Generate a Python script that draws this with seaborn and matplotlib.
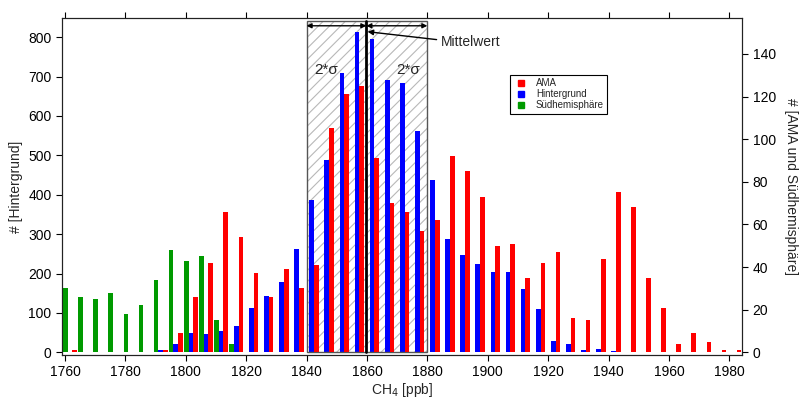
import matplotlib
matplotlib.use("Agg")
import matplotlib.pyplot as plt
import numpy as np
import pandas as pd
import seaborn as sns
from matplotlib.patches import Rectangle
from matplotlib.lines import Line2D

# ---------------- data ----------------
bins = list(range(1760, 1985, 5))  # CH4 bin start [ppb]
ama = [1, 0, 0, 0, 0, 0, 1, 9, 26, 42,
       66, 54, 37, 26, 39, 30, 41, 105, 121, 125,
       91, 70, 66, 57, 62, 92, 85, 73, 50, 51,
       35, 42, 47, 16, 15, 44, 75, 68, 35, 21,
       4, 9, 5, 1, 1]
hintergrund = [0, 0, 0, 0, 0, 1, 7, 22, 50, 47,
               55, 67, 112, 143, 178, 261, 386, 488, 709, 813,
               796, 692, 684, 562, 437, 287, 248, 223, 203, 203,
               161, 110, 28, 21, 7, 9, 2, 0, 0, 0,
               0, 0, 0, 0, 0]
suedhemisphaere = [30, 26, 25, 28, 18, 22, 34, 48, 43, 45,
                   15, 4, 0, 0, 0, 0, 0, 0, 0, 0,
                   0, 0, 0, 0, 0, 0, 0, 0, 0, 0,
                   0, 0, 0, 0, 0, 0, 0, 0, 0, 0,
                   0, 0, 0, 0, 0]
series_names = ["AMA", "Hintergrund", "Südhemisphäre"]
mittelwert = 1859.8
sigma_lo, sigma_hi = 1840, 1880
xticks = list(range(1760, 1981, 20))
yticks_left = list(range(0, 801, 100))
yticks_right = list(range(0, 141, 20))

# ---------------- style ----------------
sns.set_theme(style="ticks")
plt.rcParams["font.family"] = ["Liberation Sans", "DejaVu Sans"]
plt.rcParams["hatch.linewidth"] = 0.8

n = len(bins)
df = pd.DataFrame({
    "bin": bins * 3,
    "count": ama + hintergrund + suedhemisphaere,
    "series": ["AMA"] * n + ["Hintergrund"] * n + ["Südhemisphäre"] * n,
})
df["pos"] = df["bin"] + 1.7

dodge_order = ["Südhemisphäre", "Hintergrund", "AMA"]
palette = {"AMA": "#ff0000", "Hintergrund": "#0000ff", "Südhemisphäre": "#009a00"}

fig = plt.figure(figsize=(7.99, 4.01), dpi=100)
ax = fig.add_axes([62.3 / 799, 1 - 355 / 401, (741.7 - 62.3) / 799, (355 - 18.3) / 401])
ax2 = ax.twinx()

common = dict(x="pos", y="count", hue="series", hue_order=dodge_order, palette=palette,
              native_scale=True, width=0.93, dodge=True, saturation=1, errorbar=None,
              legend=False, linewidth=0, orient="x")
sns.barplot(data=df[df["series"] == "Hintergrund"], ax=ax, **common)
sns.barplot(data=df[df["series"] != "Hintergrund"], ax=ax2, **common)

# 2 sigma box
ax.add_patch(Rectangle((sigma_lo, 0), sigma_hi - sigma_lo, 840, facecolor="none",
                       edgecolor="#b8b8b8", linewidth=0, hatch="///", zorder=0.5))
ax.add_patch(Rectangle((sigma_lo, 0), sigma_hi - sigma_lo, 840, fill=False,
                       edgecolor="#555555", linewidth=1.0, zorder=3))
ax.plot([mittelwert, mittelwert], [0, 840], color="black", lw=2, zorder=4)
for a, b in [(sigma_lo, mittelwert), (mittelwert, sigma_hi)]:
    ax.annotate("", xy=(a, 829), xytext=(b, 829),
                arrowprops=dict(arrowstyle="<|-|>", color="black", lw=1,
                                shrinkA=0, shrinkB=0, mutation_scale=7), zorder=5)
ax.text(1846.6, 717, "2*σ", ha="center", va="center", fontsize=11)
ax.text(1873.7, 717, "2*σ", ha="center", va="center", fontsize=11)
ax.annotate("Mittelwert", xy=(mittelwert + 0.4, 814), xytext=(1884.6, 789),
            ha="left", va="center", fontsize=10,
            arrowprops=dict(arrowstyle="-|>", color="black", lw=1, mutation_scale=8,
                            shrinkA=1, shrinkB=0, relpos=(0, 0.6)))

# axes
ax.set_xlim(1759.1, 1984.1)
ax.set_ylim(-6.9, 848)
ax2.set_ylim(-1.27, 156.7)
ax.set_xticks(xticks)
ax.set_yticks(yticks_left)
ax2.set_yticks(yticks_right)
ax.tick_params(axis="x", top=True, bottom=True, direction="out", length=4.3, width=0.8,
               labelsize=10, pad=3, colors="black")
ax.tick_params(axis="y", left=True, right=False, direction="out", length=4.3, width=0.8,
               labelsize=10, pad=3.5, colors="black")
ax2.tick_params(axis="y", right=True, left=False, direction="out", length=4.3, width=0.8,
                labelsize=10, pad=3.5, colors="black")
for a_ in (ax, ax2):
    for s in a_.spines.values():
        s.set_visible(True)
        s.set_color("#222222")
        s.set_linewidth(0.8)

ax.set_xlabel("CH$_4$ [ppb]", fontsize=10, labelpad=1.5)
ax.set_ylabel("# [Hintergrund]", fontsize=10, labelpad=4)
ax2.set_ylabel("# [AMA und Südhemisphäre]", fontsize=10, rotation=270, va="bottom", labelpad=6)

handles = [Line2D([], [], linestyle="none", marker="s", markersize=4.5,
                  markerfacecolor=palette[s], markeredgecolor=palette[s]) for s in series_names]
leg = fig.legend(handles, series_names, loc="upper left", bbox_to_anchor=(510 / 799, 1 - 75 / 401),
                 fontsize=7, frameon=True, fancybox=False, edgecolor="black", framealpha=1,
                 borderpad=0.35, labelspacing=0.1, handlelength=1.6, handletextpad=0.7,
                 borderaxespad=0)
leg.get_frame().set_linewidth(0.8)

fig.savefig("out.png", dpi=100)
